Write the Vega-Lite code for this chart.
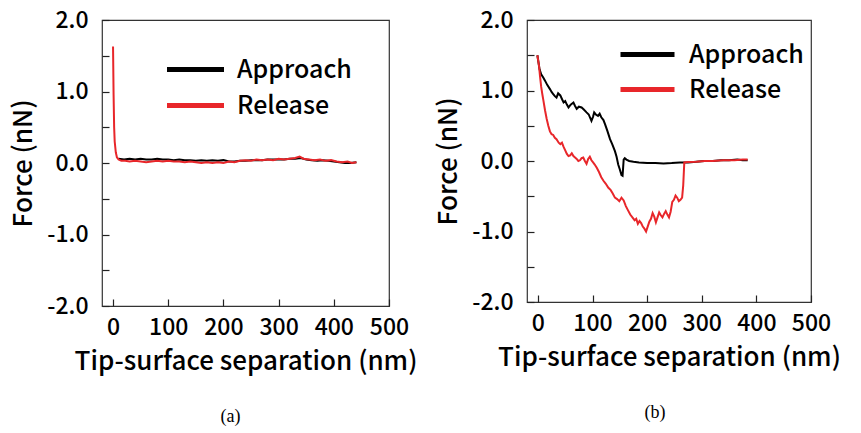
{
  "$schema": "https://vega.github.io/schema/vega-lite/v6.json",
  "background": "white",
  "padding": {"left": 10, "top": 8, "right": 5, "bottom": 5},
  "config": {
    "font": "Noto Sans CJK JP",
    "view": {"stroke": "#333333", "strokeWidth": 1.2},
    "axis": {"grid": true, "gridColor": "#222222", "gridWidth": 1.2, "gridOpacity": 1, "domain": false, "ticks": false, "zindex": 1, "labelOverlap": false, "labelFlush": false, "labelFont": "Noto Sans CJK JP", "labelFontSize": 23, "labelFontWeight": 500, "labelColor": "#000000", "titleFont": "Noto Sans CJK JP", "titleFontSize": 26, "titleFontWeight": 500, "titleColor": "#000000"},
    "legend": {"symbolStrokeWidth": 5, "labelFont": "Noto Sans CJK JP", "labelFontSize": 25, "labelFontWeight": 500, "labelColor": "#000000", "rowPadding": 10, "padding": 0, "title": null},
    "concat": {"spacing": 17}
  },
  "resolve": {"scale": {"color": "independent", "x": "independent", "y": "independent"}, "legend": {"color": "independent"}},
  "hconcat": [
    {
      "width": 287, "height": 286,
      "title": {"text": "(a)", "orient": "bottom", "font": "Liberation Serif", "fontSize": 18, "fontWeight": "normal", "offset": 34, "dx": -15, "color": "#000000"},
      "data": {"values": [
        {"x": 10, "y": 0.06, "series": "Approach"}, {"x": 20, "y": 0.05, "series": "Approach"}, {"x": 30, "y": 0.06, "series": "Approach"}, {"x": 40, "y": 0.05, "series": "Approach"}, {"x": 50, "y": 0.06, "series": "Approach"}, {"x": 60, "y": 0.05, "series": "Approach"}, {"x": 70, "y": 0.05, "series": "Approach"}, {"x": 80, "y": 0.06, "series": "Approach"}, {"x": 90, "y": 0.05, "series": "Approach"}, {"x": 100, "y": 0.05, "series": "Approach"}, {"x": 110, "y": 0.04, "series": "Approach"}, {"x": 120, "y": 0.05, "series": "Approach"}, {"x": 130, "y": 0.04, "series": "Approach"}, {"x": 140, "y": 0.04, "series": "Approach"}, {"x": 150, "y": 0.03, "series": "Approach"}, {"x": 160, "y": 0.04, "series": "Approach"}, {"x": 170, "y": 0.03, "series": "Approach"}, {"x": 180, "y": 0.04, "series": "Approach"}, {"x": 190, "y": 0.03, "series": "Approach"}, {"x": 200, "y": 0.04, "series": "Approach"}, {"x": 210, "y": 0.02, "series": "Approach"}, {"x": 220, "y": 0.02, "series": "Approach"}, {"x": 230, "y": 0.03, "series": "Approach"}, {"x": 240, "y": 0.03, "series": "Approach"}, {"x": 250, "y": 0.04, "series": "Approach"}, {"x": 260, "y": 0.04, "series": "Approach"}, {"x": 270, "y": 0.04, "series": "Approach"}, {"x": 280, "y": 0.05, "series": "Approach"}, {"x": 290, "y": 0.05, "series": "Approach"}, {"x": 300, "y": 0.05, "series": "Approach"}, {"x": 310, "y": 0.05, "series": "Approach"}, {"x": 320, "y": 0.06, "series": "Approach"}, {"x": 330, "y": 0.06, "series": "Approach"}, {"x": 340, "y": 0.07, "series": "Approach"}, {"x": 350, "y": 0.05, "series": "Approach"}, {"x": 360, "y": 0.04, "series": "Approach"}, {"x": 370, "y": 0.03, "series": "Approach"}, {"x": 380, "y": 0.04, "series": "Approach"}, {"x": 390, "y": 0.03, "series": "Approach"}, {"x": 400, "y": 0.02, "series": "Approach"}, {"x": 410, "y": 0.01, "series": "Approach"}, {"x": 420, "y": 0.0, "series": "Approach"}, {"x": 430, "y": 0.0, "series": "Approach"}, {"x": 441, "y": 0.01, "series": "Approach"},
        {"x": 0, "y": 1.63, "series": "Release"}, {"x": 1, "y": 0.95, "series": "Release"}, {"x": 2, "y": 0.5, "series": "Release"}, {"x": 3, "y": 0.3, "series": "Release"}, {"x": 5, "y": 0.15, "series": "Release"}, {"x": 7, "y": 0.08, "series": "Release"}, {"x": 10, "y": 0.05, "series": "Release"}, {"x": 15, "y": 0.03, "series": "Release"}, {"x": 22, "y": 0.03, "series": "Release"}, {"x": 30, "y": 0.02, "series": "Release"}, {"x": 40, "y": 0.03, "series": "Release"}, {"x": 50, "y": 0.02, "series": "Release"}, {"x": 60, "y": 0.01, "series": "Release"}, {"x": 70, "y": 0.02, "series": "Release"}, {"x": 80, "y": 0.03, "series": "Release"}, {"x": 90, "y": 0.02, "series": "Release"}, {"x": 100, "y": 0.03, "series": "Release"}, {"x": 110, "y": 0.02, "series": "Release"}, {"x": 120, "y": 0.02, "series": "Release"}, {"x": 130, "y": 0.01, "series": "Release"}, {"x": 140, "y": 0.02, "series": "Release"}, {"x": 150, "y": 0.01, "series": "Release"}, {"x": 160, "y": 0.0, "series": "Release"}, {"x": 170, "y": 0.01, "series": "Release"}, {"x": 180, "y": 0.0, "series": "Release"}, {"x": 190, "y": 0.01, "series": "Release"}, {"x": 200, "y": 0.0, "series": "Release"}, {"x": 210, "y": 0.02, "series": "Release"}, {"x": 220, "y": 0.01, "series": "Release"}, {"x": 230, "y": 0.03, "series": "Release"}, {"x": 240, "y": 0.04, "series": "Release"}, {"x": 250, "y": 0.03, "series": "Release"}, {"x": 260, "y": 0.05, "series": "Release"}, {"x": 270, "y": 0.04, "series": "Release"}, {"x": 280, "y": 0.05, "series": "Release"}, {"x": 290, "y": 0.04, "series": "Release"}, {"x": 300, "y": 0.06, "series": "Release"}, {"x": 310, "y": 0.05, "series": "Release"}, {"x": 320, "y": 0.06, "series": "Release"}, {"x": 330, "y": 0.07, "series": "Release"}, {"x": 338, "y": 0.09, "series": "Release"}, {"x": 345, "y": 0.06, "series": "Release"}, {"x": 355, "y": 0.05, "series": "Release"}, {"x": 365, "y": 0.04, "series": "Release"}, {"x": 375, "y": 0.05, "series": "Release"}, {"x": 385, "y": 0.03, "series": "Release"}, {"x": 395, "y": 0.04, "series": "Release"}, {"x": 405, "y": 0.02, "series": "Release"}, {"x": 415, "y": 0.01, "series": "Release"}, {"x": 425, "y": 0.02, "series": "Release"}, {"x": 433, "y": 0.0, "series": "Release"}, {"x": 441, "y": 0.01, "series": "Release"}
      ]},
      "layer": [
        {
          "mark": {"type": "line", "strokeWidth": 2, "clip": true},
          "encoding": {
            "x": {"field": "x", "type": "quantitative", "scale": {"domain": [-20, 500], "nice": false, "zero": false}, "axis": {"orient": "bottom", "values": [0, 100, 200, 300, 400, 500], "gridDash": [0, 279, 7, 1000], "labelPadding": 10, "format": "d", "title": "Tip-surface separation (nm)", "titlePadding": 9}},
            "y": {"field": "y", "type": "quantitative", "scale": {"domain": [-2, 2], "nice": false, "zero": false}, "axis": {"orient": "left", "values": [-2, -1.5, -1, -0.5, 0, 0.5, 1, 1.5, 2], "gridDash": [7, 1000], "labelPadding": 14, "labelExpr": "datum.value % 1 == 0 ? (datum.value < 0 ? '-' : '') + format(abs(datum.value), '.1f') : ''", "title": "Force (nN)", "titlePadding": 10}},
            "color": {"field": "series", "type": "nominal", "scale": {"domain": ["Approach", "Release"], "range": ["#000000", "#e8262a"]}, "legend": {"orient": "none", "legendX": 81, "legendY": 37, "symbolType": "M-5.7,0H5.7", "symbolSize": 100, "labelOffset": 29}}
          }
        },
        {
          "mark": {"type": "line", "opacity": 0},
          "encoding": {
            "x": {"field": "x", "type": "quantitative", "axis": {"orient": "bottom", "values": [-20, 20, 40, 60, 80, 120, 140, 160, 180, 220, 240, 260, 280, 320, 340, 360, 380, 420, 440, 460, 480], "gridDash": [0, 282, 4, 1000], "labels": false, "title": null}},
            "y": {"field": "y", "type": "quantitative", "axis": {"orient": "left", "values": [-1.9, -1.8, -1.7, -1.6, -1.4, -1.3, -1.2, -1.1, -0.9, -0.8, -0.7, -0.6, -0.4, -0.3, -0.2, -0.1, 0.1, 0.2, 0.3, 0.4, 0.6, 0.7, 0.8, 0.9, 1.1, 1.2, 1.3, 1.4, 1.6, 1.7, 1.8, 1.9], "gridDash": [4, 1000], "labels": false, "title": null}}
          }
        }
      ],
      "resolve": {"axis": {"x": "independent", "y": "independent"}}
    },
    {
      "width": 284, "height": 282,
      "title": {"text": "(b)", "orient": "bottom", "font": "Liberation Serif", "fontSize": 18, "fontWeight": "normal", "offset": 34, "dx": -14, "color": "#000000"},
      "data": {"values": [
        {"x": -1, "y": 1.5, "series": "Approach"}, {"x": 3, "y": 1.3, "series": "Approach"}, {"x": 6, "y": 1.23, "series": "Approach"}, {"x": 10, "y": 1.18, "series": "Approach"}, {"x": 13, "y": 1.14, "series": "Approach"}, {"x": 17, "y": 1.08, "series": "Approach"}, {"x": 22, "y": 1.02, "series": "Approach"}, {"x": 25, "y": 0.98, "series": "Approach"}, {"x": 28, "y": 0.95, "series": "Approach"}, {"x": 31, "y": 0.92, "series": "Approach"}, {"x": 34, "y": 0.9, "series": "Approach"}, {"x": 37, "y": 0.96, "series": "Approach"}, {"x": 41, "y": 0.93, "series": "Approach"}, {"x": 44, "y": 0.88, "series": "Approach"}, {"x": 47, "y": 0.83, "series": "Approach"}, {"x": 50, "y": 0.85, "series": "Approach"}, {"x": 53, "y": 0.8, "series": "Approach"}, {"x": 56, "y": 0.76, "series": "Approach"}, {"x": 60, "y": 0.8, "series": "Approach"}, {"x": 65, "y": 0.83, "series": "Approach"}, {"x": 68, "y": 0.78, "series": "Approach"}, {"x": 71, "y": 0.74, "series": "Approach"}, {"x": 75, "y": 0.77, "series": "Approach"}, {"x": 80, "y": 0.76, "series": "Approach"}, {"x": 84, "y": 0.73, "series": "Approach"}, {"x": 89, "y": 0.69, "series": "Approach"}, {"x": 93, "y": 0.66, "series": "Approach"}, {"x": 98, "y": 0.57, "series": "Approach"}, {"x": 101, "y": 0.63, "series": "Approach"}, {"x": 103, "y": 0.69, "series": "Approach"}, {"x": 106, "y": 0.66, "series": "Approach"}, {"x": 110, "y": 0.64, "series": "Approach"}, {"x": 113, "y": 0.67, "series": "Approach"}, {"x": 116, "y": 0.62, "series": "Approach"}, {"x": 120, "y": 0.58, "series": "Approach"}, {"x": 123, "y": 0.52, "series": "Approach"}, {"x": 127, "y": 0.43, "series": "Approach"}, {"x": 132, "y": 0.31, "series": "Approach"}, {"x": 136, "y": 0.24, "series": "Approach"}, {"x": 141, "y": 0.14, "series": "Approach"}, {"x": 144, "y": 0.06, "series": "Approach"}, {"x": 147, "y": -0.05, "series": "Approach"}, {"x": 150, "y": -0.12, "series": "Approach"}, {"x": 153, "y": -0.2, "series": "Approach"}, {"x": 155, "y": -0.21, "series": "Approach"}, {"x": 157, "y": 0.02, "series": "Approach"}, {"x": 159, "y": 0.04, "series": "Approach"}, {"x": 162, "y": 0.02, "series": "Approach"}, {"x": 167, "y": 0.0, "series": "Approach"}, {"x": 175, "y": -0.01, "series": "Approach"}, {"x": 185, "y": -0.02, "series": "Approach"}, {"x": 200, "y": -0.03, "series": "Approach"}, {"x": 215, "y": -0.03, "series": "Approach"}, {"x": 230, "y": -0.035, "series": "Approach"}, {"x": 245, "y": -0.03, "series": "Approach"}, {"x": 260, "y": -0.02, "series": "Approach"}, {"x": 275, "y": -0.02, "series": "Approach"}, {"x": 290, "y": -0.01, "series": "Approach"}, {"x": 305, "y": 0.0, "series": "Approach"}, {"x": 320, "y": 0.0, "series": "Approach"}, {"x": 335, "y": 0.01, "series": "Approach"}, {"x": 350, "y": 0.01, "series": "Approach"}, {"x": 365, "y": 0.02, "series": "Approach"}, {"x": 375, "y": 0.01, "series": "Approach"}, {"x": 384, "y": 0.01, "series": "Approach"},
        {"x": -1, "y": 1.5, "series": "Release"}, {"x": 2, "y": 1.35, "series": "Release"}, {"x": 4, "y": 1.19, "series": "Release"}, {"x": 6, "y": 1.05, "series": "Release"}, {"x": 8, "y": 0.95, "series": "Release"}, {"x": 10, "y": 0.86, "series": "Release"}, {"x": 13, "y": 0.72, "series": "Release"}, {"x": 16, "y": 0.6, "series": "Release"}, {"x": 19, "y": 0.5, "series": "Release"}, {"x": 22, "y": 0.42, "series": "Release"}, {"x": 25, "y": 0.38, "series": "Release"}, {"x": 28, "y": 0.37, "series": "Release"}, {"x": 31, "y": 0.33, "series": "Release"}, {"x": 34, "y": 0.31, "series": "Release"}, {"x": 38, "y": 0.26, "series": "Release"}, {"x": 41, "y": 0.24, "series": "Release"}, {"x": 44, "y": 0.26, "series": "Release"}, {"x": 47, "y": 0.2, "series": "Release"}, {"x": 50, "y": 0.15, "series": "Release"}, {"x": 53, "y": 0.1, "series": "Release"}, {"x": 56, "y": 0.07, "series": "Release"}, {"x": 59, "y": 0.08, "series": "Release"}, {"x": 62, "y": 0.11, "series": "Release"}, {"x": 65, "y": 0.07, "series": "Release"}, {"x": 68, "y": 0.05, "series": "Release"}, {"x": 71, "y": 0.03, "series": "Release"}, {"x": 74, "y": 0.0, "series": "Release"}, {"x": 77, "y": 0.01, "series": "Release"}, {"x": 80, "y": 0.04, "series": "Release"}, {"x": 83, "y": 0.05, "series": "Release"}, {"x": 86, "y": 0.0, "series": "Release"}, {"x": 89, "y": -0.04, "series": "Release"}, {"x": 92, "y": 0.03, "series": "Release"}, {"x": 95, "y": 0.06, "series": "Release"}, {"x": 98, "y": 0.01, "series": "Release"}, {"x": 101, "y": -0.02, "series": "Release"}, {"x": 104, "y": -0.05, "series": "Release"}, {"x": 108, "y": -0.1, "series": "Release"}, {"x": 112, "y": -0.16, "series": "Release"}, {"x": 116, "y": -0.23, "series": "Release"}, {"x": 120, "y": -0.28, "series": "Release"}, {"x": 124, "y": -0.32, "series": "Release"}, {"x": 129, "y": -0.38, "series": "Release"}, {"x": 133, "y": -0.41, "series": "Release"}, {"x": 137, "y": -0.46, "series": "Release"}, {"x": 141, "y": -0.52, "series": "Release"}, {"x": 145, "y": -0.54, "series": "Release"}, {"x": 149, "y": -0.57, "series": "Release"}, {"x": 153, "y": -0.52, "series": "Release"}, {"x": 157, "y": -0.56, "series": "Release"}, {"x": 161, "y": -0.64, "series": "Release"}, {"x": 165, "y": -0.7, "series": "Release"}, {"x": 169, "y": -0.76, "series": "Release"}, {"x": 173, "y": -0.8, "series": "Release"}, {"x": 177, "y": -0.84, "series": "Release"}, {"x": 180, "y": -0.82, "series": "Release"}, {"x": 183, "y": -0.89, "series": "Release"}, {"x": 186, "y": -0.85, "series": "Release"}, {"x": 189, "y": -0.88, "series": "Release"}, {"x": 192, "y": -0.93, "series": "Release"}, {"x": 195, "y": -0.96, "series": "Release"}, {"x": 198, "y": -1.0, "series": "Release"}, {"x": 201, "y": -0.93, "series": "Release"}, {"x": 204, "y": -0.86, "series": "Release"}, {"x": 207, "y": -0.82, "series": "Release"}, {"x": 210, "y": -0.74, "series": "Release"}, {"x": 213, "y": -0.79, "series": "Release"}, {"x": 216, "y": -0.87, "series": "Release"}, {"x": 219, "y": -0.8, "series": "Release"}, {"x": 222, "y": -0.73, "series": "Release"}, {"x": 225, "y": -0.77, "series": "Release"}, {"x": 228, "y": -0.8, "series": "Release"}, {"x": 231, "y": -0.75, "series": "Release"}, {"x": 234, "y": -0.71, "series": "Release"}, {"x": 237, "y": -0.76, "series": "Release"}, {"x": 240, "y": -0.8, "series": "Release"}, {"x": 243, "y": -0.72, "series": "Release"}, {"x": 246, "y": -0.58, "series": "Release"}, {"x": 249, "y": -0.55, "series": "Release"}, {"x": 252, "y": -0.49, "series": "Release"}, {"x": 255, "y": -0.52, "series": "Release"}, {"x": 258, "y": -0.57, "series": "Release"}, {"x": 261, "y": -0.55, "series": "Release"}, {"x": 264, "y": -0.52, "series": "Release"}, {"x": 266, "y": -0.35, "series": "Release"}, {"x": 268, "y": -0.02, "series": "Release"}, {"x": 275, "y": -0.015, "series": "Release"}, {"x": 290, "y": -0.01, "series": "Release"}, {"x": 305, "y": 0.0, "series": "Release"}, {"x": 320, "y": 0.0, "series": "Release"}, {"x": 340, "y": 0.01, "series": "Release"}, {"x": 360, "y": 0.01, "series": "Release"}, {"x": 375, "y": 0.02, "series": "Release"}, {"x": 384, "y": 0.02, "series": "Release"}
      ]},
      "layer": [
        {
          "mark": {"type": "line", "strokeWidth": 2, "clip": true},
          "encoding": {
            "x": {"field": "x", "type": "quantitative", "scale": {"domain": [-20, 500], "nice": false, "zero": false}, "axis": {"orient": "bottom", "values": [0, 100, 200, 300, 400, 500], "gridDash": [0, 275, 7, 1000], "labelPadding": 10, "format": "d", "title": "Tip-surface separation (nm)", "titlePadding": 9}},
            "y": {"field": "y", "type": "quantitative", "scale": {"domain": [-2, 2], "nice": false, "zero": false}, "axis": {"orient": "left", "values": [-2, -1.5, -1, -0.5, 0, 0.5, 1, 1.5, 2], "gridDash": [7, 1000], "labelPadding": 14, "labelExpr": "datum.value % 1 == 0 ? (datum.value < 0 ? '-' : '') + format(abs(datum.value), '.1f') : ''", "title": "Force (nN)", "titlePadding": 10}},
            "color": {"field": "series", "type": "nominal", "scale": {"domain": ["Approach", "Release"], "range": ["#000000", "#e8262a"]}, "legend": {"orient": "none", "legendX": 108, "legendY": 22, "symbolType": "M-5.4,0H5.4", "symbolSize": 100, "labelOffset": 29, "rowPadding": 9}}
          }
        },
        {
          "mark": {"type": "line", "opacity": 0},
          "encoding": {
            "x": {"field": "x", "type": "quantitative", "axis": {"orient": "bottom", "values": [-20, 20, 40, 60, 80, 120, 140, 160, 180, 220, 240, 260, 280, 320, 340, 360, 380, 420, 440, 460, 480], "gridDash": [0, 278, 4, 1000], "labels": false, "title": null}},
            "y": {"field": "y", "type": "quantitative", "axis": {"orient": "left", "values": [-1.9, -1.8, -1.7, -1.6, -1.4, -1.3, -1.2, -1.1, -0.9, -0.8, -0.7, -0.6, -0.4, -0.3, -0.2, -0.1, 0.1, 0.2, 0.3, 0.4, 0.6, 0.7, 0.8, 0.9, 1.1, 1.2, 1.3, 1.4, 1.6, 1.7, 1.8, 1.9], "gridDash": [4, 1000], "labels": false, "title": null}}
          }
        }
      ],
      "resolve": {"axis": {"x": "independent", "y": "independent"}}
    }
  ]
}
